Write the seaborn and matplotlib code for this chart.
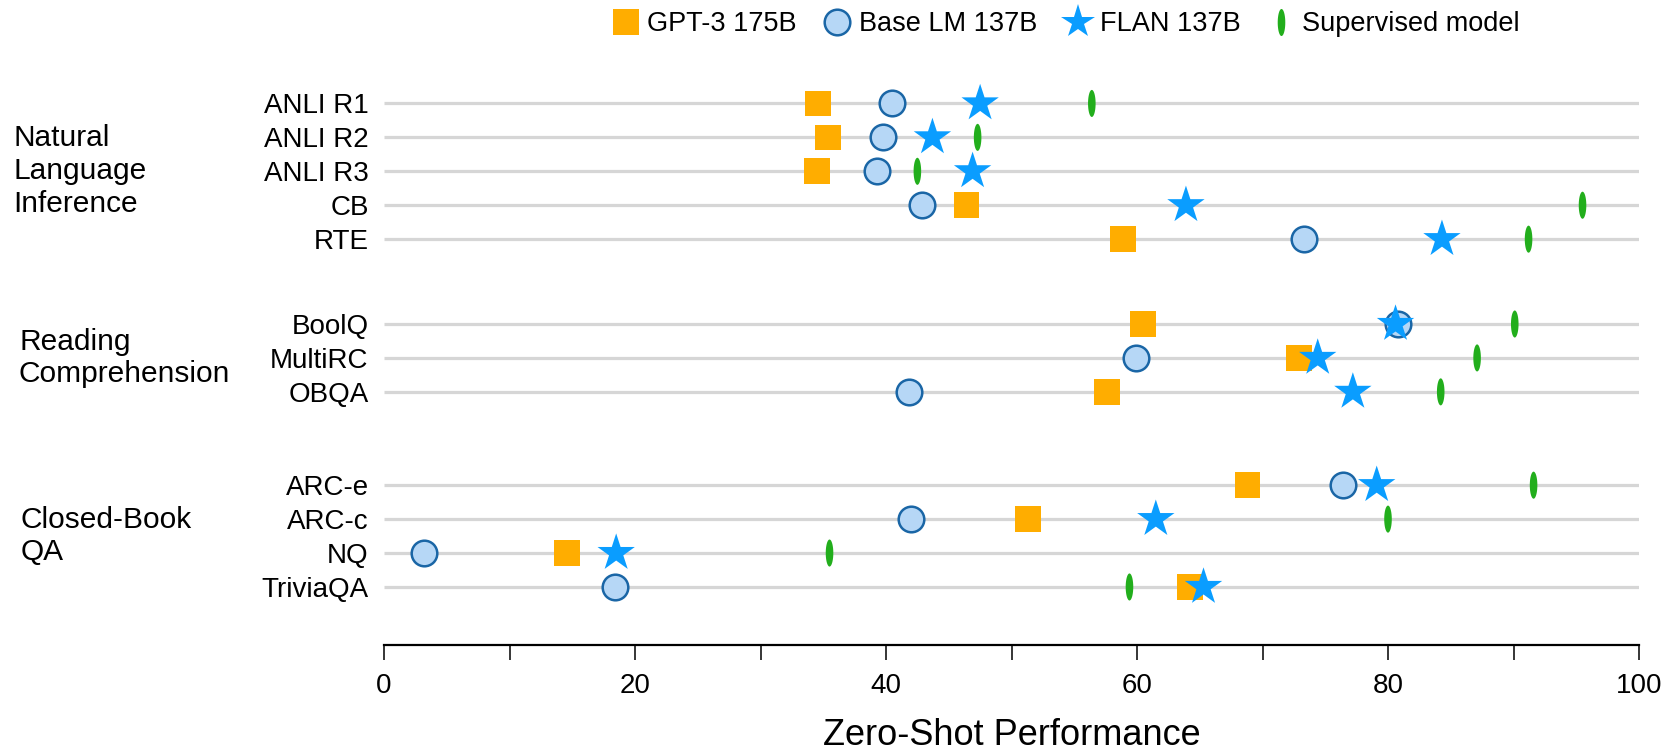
import numpy as np
import pandas as pd
import seaborn as sns
import matplotlib.pyplot as plt
from matplotlib.lines import Line2D
from matplotlib.transforms import blended_transform_factory

# values
tasks = ['ANLI R1', 'ANLI R2', 'ANLI R3', 'CB', 'RTE',
         'BoolQ', 'MultiRC', 'OBQA',
         'ARC-e', 'ARC-c', 'NQ', 'TriviaQA']
groups = ['Natural\nLanguage\nInference', 'Reading\nComprehension', 'Closed-Book\nQA']
group_sizes = [5, 3, 4]

gpt3 = [34.6, 35.4, 34.5, 46.4, 58.9, 60.5, 72.9, 57.6, 68.8, 51.3, 14.6, 64.2]
base_lm = [40.5, 39.8, 39.3, 42.9, 73.3, 80.8, 59.9, 41.8, 76.4, 42.0, 3.2, 18.4]
flan = [47.5, 43.7, 46.9, 63.9, 84.3, 80.6, 74.4, 77.2, 79.1, 61.5, 18.5, 65.3]
supervised = [56.4, 47.3, 42.5, 95.5, 91.2, 90.1, 87.1, 84.2, 91.6, 80.0, 35.5, 59.4]

model_names = ['GPT-3 175B', 'Base LM 137B', 'FLAN 137B', 'Supervised model']

sns.set_style('white')
plt.rcParams['font.family'] = ['Liberation Sans', 'DejaVu Sans']
plt.rcParams['text.color'] = 'black'
plt.rcParams['axes.labelcolor'] = 'black'
plt.rcParams['xtick.color'] = 'black'
plt.rcParams['ytick.color'] = 'black'

# row positions: one unit per task, extra space between groups
extra_gap = [0, 1.5, 1.75]
ypos = []
y = -1
for gi, n in enumerate(group_sizes):
    y += extra_gap[gi]
    for i in range(n):
        y += 1
        ypos.append(y)
ypos = np.array(ypos)

df = pd.DataFrame({'task': tasks, 'y': ypos,
                   'GPT-3 175B': gpt3, 'Base LM 137B': base_lm,
                   'FLAN 137B': flan, 'Supervised model': supervised})
long = df.melt(id_vars=['task', 'y'], value_vars=model_names,
               var_name='model', value_name='score')

# thin vertical ellipse used for the supervised model
t = np.linspace(0, 2 * np.pi, 40)
tick_marker = np.column_stack([0.14 * np.cos(t), 0.5 * np.sin(t)])

styles = {
    'Supervised model': dict(marker=tick_marker, s=380, color='#22AE1C', edgecolor='none', linewidth=0),
    'GPT-3 175B': dict(marker='s', s=340, color='#FFAD00', edgecolor='none', linewidth=0),
    'Base LM 137B': dict(marker='o', s=340, color='#B6D7F6', edgecolor='#1A66A6', linewidth=1.8),
    'FLAN 137B': dict(marker='*', s=800, color='#0A9DFF', edgecolor='none', linewidth=0),
}

fig = plt.figure(figsize=(16.66, 7.52), dpi=100)
ax = fig.add_axes([384 / 1666, 1 - 645 / 752, (1639 - 384) / 1666, (645 - 60) / 752])

ax.hlines(ypos, 0, 100, color='#D6D6D6', linewidth=2.3, zorder=0)

for k, name in enumerate(model_names[3:] + model_names[:3]):
    sub = long[long['model'] == name]
    sns.scatterplot(data=sub, x='score', y='y', ax=ax, legend=False,
                    zorder=2 + k, clip_on=False, **styles[name])

ax.set_xlim(0, 100)
ax.set_ylim(15.96, -1.28)
ax.set_yticks(ypos)
ax.set_yticklabels(tasks, fontsize=20)
ax.tick_params(axis='y', length=0, pad=11)

ax.set_xticks(np.arange(0, 101, 20))
ax.set_xticks(np.arange(10, 100, 20), minor=True)
ax.tick_params(axis='x', which='both', direction='out', length=11, width=1.1,
               color='black', labelsize=20, pad=9, bottom=True)
ax.set_xlabel('Zero-Shot Performance', fontsize=26, labelpad=14)
ax.set_ylabel('')

for side in ['left', 'right', 'top']:
    ax.spines[side].set_visible(False)
ax.spines['bottom'].set_color('black')
ax.spines['bottom'].set_linewidth(1.6)

# group labels at the left edge of the figure
trans = blended_transform_factory(fig.transFigure, ax.transData)
start = 0
label_x = [13, 19, 21]
for gi, name in enumerate(groups):
    n = group_sizes[gi]
    yc = ypos[start:start + n].mean()
    ax.text(label_x[gi] / 1666, yc, name, transform=trans, ha='left', va='center',
            fontsize=21.5, linespacing=1.22)
    start += n

handles = []
for name in model_names:
    st = styles[name]
    ms = np.sqrt(st['s']) * (0.9 if name == 'FLAN 137B' else 1.0)
    handles.append(Line2D([], [], linestyle='none', marker=st['marker'], markersize=ms,
                          markerfacecolor=st['color'],
                          markeredgecolor=st['edgecolor'] if st['edgecolor'] != 'none' else st['color'],
                          markeredgewidth=st['linewidth'], label=name))
fig.legend(handles=handles, loc='center', bbox_to_anchor=(1066 / 1666, 1 - 24 / 752),
           ncol=4, frameon=False, fontsize=19.5, handlelength=1.0,
           handletextpad=0.3, columnspacing=1.0)

fig.savefig('out.png', dpi=100)
